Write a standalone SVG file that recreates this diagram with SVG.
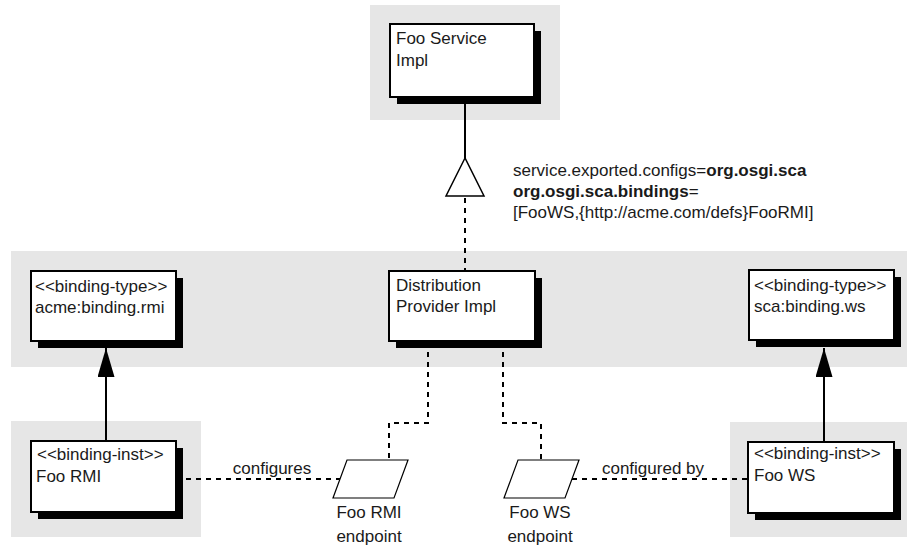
<svg xmlns="http://www.w3.org/2000/svg" width="917" height="550" viewBox="0 0 917 550">
<style>
  .bg { fill: #e6e6e6; }
  .box { fill: #ffffff; stroke: #000; stroke-width: 2; }
  .shadow { fill: #000; }
  text { font-family: "Liberation Sans", Arial, sans-serif; font-size: 17px; fill: #1a1a1a; }
  .b { font-weight: bold; }
  .solid { fill: none; stroke: #000; stroke-width: 2; }
  .dash { fill: none; stroke: #000; stroke-width: 2; stroke-dasharray: 5 5; }
  .ep { fill: #fff; stroke: #000; stroke-width: 1.2; }
  .mid { text-anchor: middle; }
</style>
<defs>
  <marker id="arrow" viewBox="0 0 29 17" refX="29" refY="8.5" markerWidth="29" markerHeight="17" markerUnits="userSpaceOnUse" orient="auto">
    <path d="M0,0 L29,8.5 L0,17 z" fill="#000"/>
  </marker>
</defs>

<g id="backgrounds">
  <rect class="bg" x="370" y="5" width="190" height="115"/>
  <rect class="bg" x="11" y="251" width="896" height="116"/>
  <rect class="bg" x="11" y="421" width="190" height="116"/>
  <rect class="bg" x="730" y="422" width="177" height="115"/>
</g>

<g id="connectors">
  <line class="solid" x1="465" y1="97" x2="465" y2="158"/>
  <polygon points="465,158 446,196 484,196" fill="#fff" stroke="#000" stroke-width="1.5"/>
  <line class="dash" x1="465" y1="198" x2="465" y2="271"/>
  <polyline class="dash" points="428,342 428,423 389,423 389,460"/>
  <polyline class="dash" points="503,342 503,423 541,423 541,460"/>
  <line class="dash" x1="176" y1="479" x2="340" y2="479"/>
  <line class="dash" x1="572" y1="479" x2="748" y2="479"/>
  <line class="solid" x1="106" y1="441" x2="106" y2="348" marker-end="url(#arrow)"/>
  <line class="solid" x1="824" y1="442" x2="824" y2="348" marker-end="url(#arrow)"/>
  <text x="272" y="474" class="mid">configures</text>
  <text x="653" y="474" class="mid">configured by</text>
</g>

<g id="annotation">
  <text x="513" y="176">service.exported.configs=<tspan class="b">org.osgi.sca</tspan></text>
  <text x="513" y="197"><tspan class="b">org.osgi.sca.bindings</tspan>=</text>
  <text x="513" y="218">[FooWS,{http://acme.com/defs}FooRMI]</text>
</g>

<g id="foo-service-impl">
  <rect class="shadow" x="397" y="31" width="144" height="73"/>
  <rect class="box" x="390" y="24" width="144" height="73"/>
  <text x="396" y="44">Foo Service</text>
  <text x="396" y="66">Impl</text>
</g>

<g id="binding-type-rmi">
  <rect class="shadow" x="38" y="278" width="145" height="70"/>
  <rect class="box" x="31" y="271" width="145" height="70"/>
  <text x="35" y="292">&lt;&lt;binding-type&gt;&gt;</text>
  <text x="35" y="313">acme:binding.rmi</text>
</g>

<g id="distribution-provider">
  <rect class="shadow" x="396" y="278" width="146" height="70"/>
  <rect class="box" x="389" y="271" width="146" height="70"/>
  <text x="396" y="291">Distribution</text>
  <text x="396" y="312">Provider Impl</text>
</g>

<g id="binding-type-ws">
  <rect class="shadow" x="756" y="277" width="145" height="70"/>
  <rect class="box" x="749" y="270" width="145" height="70"/>
  <text x="754" y="291">&lt;&lt;binding-type&gt;&gt;</text>
  <text x="754" y="312">sca:binding.ws</text>
</g>

<g id="binding-inst-rmi">
  <rect class="shadow" x="38" y="448" width="145" height="71"/>
  <rect class="box" x="31" y="441" width="145" height="71"/>
  <text x="37" y="460">&lt;&lt;binding-inst&gt;&gt;</text>
  <text x="36" y="482">Foo RMI</text>
</g>

<g id="binding-inst-ws">
  <rect class="shadow" x="755" y="449" width="146" height="71"/>
  <rect class="box" x="748" y="442" width="146" height="71"/>
  <text x="754" y="459">&lt;&lt;binding-inst&gt;&gt;</text>
  <text x="754" y="481">Foo WS</text>
</g>

<g id="foo-rmi-endpoint">
  <polygon class="ep" points="347,460 408,460 394,498 333,498"/>
  <text x="369" y="518" class="mid">Foo RMI</text>
  <text x="369" y="542" class="mid">endpoint</text>
</g>

<g id="foo-ws-endpoint">
  <polygon class="ep" points="518,460 579,460 565,498 504,498"/>
  <text x="540" y="518" class="mid">Foo WS</text>
  <text x="540" y="542" class="mid">endpoint</text>
</g>
</svg>
